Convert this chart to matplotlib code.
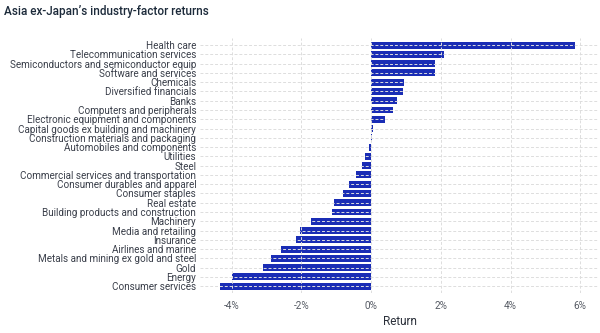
import matplotlib.pyplot as plt
from matplotlib.ticker import FuncFormatter

plt.rcParams['font.family'] = ['Roboto', 'DejaVu Sans']

# industry factors, top to bottom
industries = [
    "Health care", "Telecommunication services",
    "Semiconductors and semiconductor equip", "Software and services",
    "Chemicals", "Diversified financials", "Banks",
    "Computers and peripherals", "Electronic equipment and components",
    "Capital goods ex building and machinery",
    "Construction materials and packaging", "Automobiles and components",
    "Utilities", "Steel", "Commercial services and transportation",
    "Consumer durables and apparel", "Consumer staples", "Real estate",
    "Building products and construction", "Machinery", "Media and retailing",
    "Insurance", "Airlines and marine", "Metals and mining ex gold and steel",
    "Gold", "Energy", "Consumer services",
]
# returns in %
returns = [
    5.86, 2.1, 1.84, 1.84, 0.95, 0.92, 0.75, 0.63, 0.4, 0.05, 0.03,
    -0.06, -0.17, -0.27, -0.43, -0.63, -0.8, -1.07, -1.12, -1.72, -2.04,
    -2.16, -2.59, -2.88, -3.1, -3.99, -4.34,
]
xticks = [-4, -2, 0, 2, 4, 6]

fig = plt.figure(figsize=(6, 3.33), dpi=100)
ax = fig.add_axes([0.334, 0.121, 0.665, 0.766])

pos = list(range(len(industries)))
ax.barh(pos, returns, height=0.75, color="#1a2db5", zorder=1)
ax.set_yticks(pos)
ax.set_yticklabels(industries, fontsize=7.1, color="#3a3f4a")
ax.set_ylim(len(industries) - 0.3, -0.8)
ax.set_xlim(-4.9, 6.55)
ax.set_xticks(xticks)
ax.xaxis.set_major_formatter(FuncFormatter(lambda v, p: f"{v:.0f}%"))
ax.tick_params(axis='x', labelsize=7.2, colors="#555a63", length=0, pad=6)
ax.tick_params(axis='y', length=0, pad=3)
ax.set_xlabel("Return", fontsize=8.5, color="#2b303a", labelpad=3)

# dashed grid sits over the bars
ax.grid(True, color="#dddddd", linestyle=(0, (3, 2)), linewidth=0.7, zorder=3)
ax.set_axisbelow(False)
for s in ax.spines.values():
    s.set_visible(False)

fig.text(0.006, 0.985, "Asia ex-Japan’s industry-factor returns", fontsize=8.5,
         fontweight='medium', color="#1c2a3a", va='top', ha='left')

fig.savefig("out.png", dpi=100)
